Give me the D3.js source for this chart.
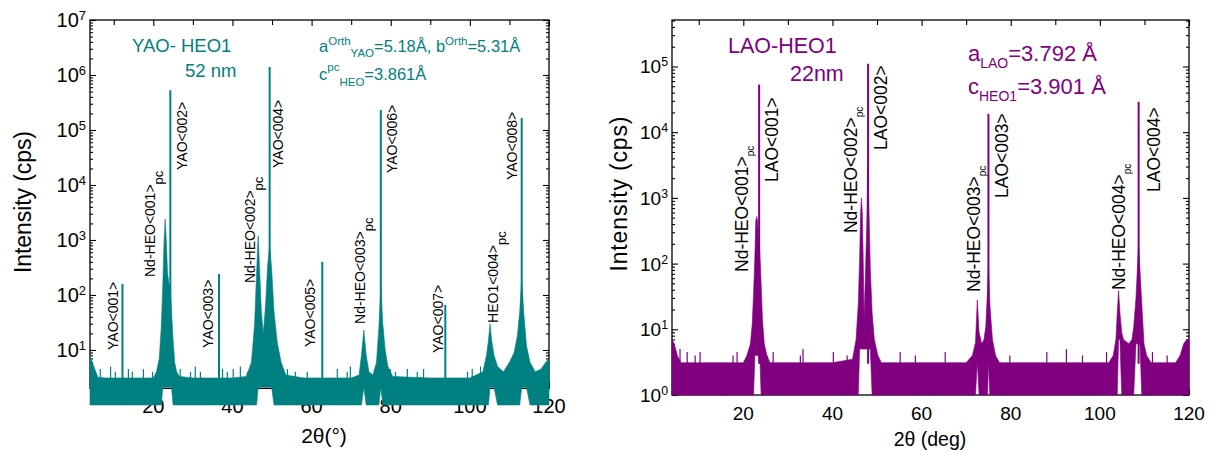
<!DOCTYPE html>
<html>
<head>
<meta charset="utf-8">
<script src="https://cdn.jsdelivr.net/npm/d3@7"></script>
<style>
  body { margin: 0; background: #fff; }
  svg text { font-family: "Liberation Sans", Arial, sans-serif; }
</style>
</head>
<body>
<div id="chart"></div>
<script>
// ---- YAO-HEO1 scan (left) : envelope of the noisy trace
const yaoTheta = [4.0, 4.6, 5.2, 6, 8, 12, 16, 20, 20.8, 21.5, 22.0, 22.4, 22.7, 23.0, 23.3, 23.6, 24.0, 24.3, 24.6,
  25.0, 25.4, 25.9, 26.6, 30, 36, 40, 43.5, 44.8, 45.6, 46.1, 46.5, 46.9, 47.3, 47.8, 48.4, 48.9, 49.4, 49.9,
  50.5, 51.3, 52.3, 53.5, 58, 65, 70, 72.0, 72.6, 73.2, 73.8, 74.5, 75.5, 76.4, 77.0, 77.5, 78.0, 78.6, 79.3,
  80.5, 90, 100, 103.3, 104.2, 104.7, 105.1, 105.5, 106.1, 107.0, 108.5, 110.0, 111.2, 112.0, 112.6, 113.1,
  113.6, 114.3, 115.2, 116.5, 118, 119.2, 120];
const yaoHigh = [8, 6, 4.5, 3.2, 3.1, 3.1, 3.1, 3.1, 4, 7, 25, 150, 900, 2400, 900, 250, 150, 160, 50,
  15, 6, 4, 3.3, 3.1, 3.1, 3.1, 3.3, 6, 30, 250, 1200, 250, 50, 20, 70, 350, 800, 300,
  50, 14, 6, 3.5, 3.1, 3.1, 3.1, 3.5, 8, 23, 8, 4, 3.5, 6, 25, 150, 30, 10, 5,
  3.3, 3.1, 3.1, 4, 8, 15, 30, 15, 8, 5, 4, 6, 9, 18, 50, 200,
  50, 12, 6, 4, 4.5, 6, 7];
const yaoLow = [1, 1, 1, 1, 1, 1, 1, 1, 1, 1, 1, 2.1, 2.1, 2.1, 2.1, 2.1, 2.1, 2.1, 2.1,
  1, 1, 1, 1, 1, 1, 1, 1, 1, 1, 1, 2.1, 2.1, 2.1, 2.1, 2.1, 2.1, 2.1, 2.1,
  1, 1, 1, 1, 1, 1, 1, 1, 1, 2.1, 1, 1, 1, 1, 1, 2.1, 1, 1, 1,
  1, 1, 1, 1, 1, 1, 2.1, 2.1, 2.1, 1, 1, 1, 1, 1, 1, 2.1,
  2.1, 2.1, 1, 1, 1, 1, 1];
const yaoLineTheta = [12.2, 24.3, 36.6, 49.4, 62.7, 77.5, 93.8, 113.1];
const yaoLineCounts = [158, 530000, 240, 1400000, 400, 230000, 66, 165000];
const yaoSpikeTheta = [6.6, 9.2, 10.4, 13.7, 14.7, 17.5, 19.8, 26.8, 29.4, 30.6, 31.9, 37.5, 38.7, 40.2, 42.0,
  43.8, 53.9, 55.9, 58.9, 66.5, 69.0, 69.8, 79.9, 81.2, 84.2, 86.7, 88.3, 99.4, 100.6, 102.7, 110.2, 116.0, 118.6];
const yaoSpikeCounts = [4.5, 5, 4, 4.5, 4, 4.5, 4, 4.5, 4, 5, 4, 4.5, 4, 4.5, 5,
  4, 4.5, 4, 4, 4.5, 4, 5, 4.5, 4, 4.5, 4, 4.5, 4, 4.5, 5, 4, 4.5, 5];
const yaoLabelText = ['YAO<001>', 'Nd-HEO<001>', 'YAO<002>', 'YAO<003>', 'Nd-HEO<002>', 'YAO<004>',
  'YAO<005>', 'Nd-HEO<003>', 'YAO<006>', 'YAO<007>', 'HEO1<004>', 'YAO<008>'];
const yaoLabelSub = ['', 'pc', '', '', 'pc', '', '', 'pc', '', '', 'pc', ''];
const yaoLabelTheta = [11.1, 20.4, 28.5, 35.1, 45.7, 52.8, 60.9, 73.5, 81.6, 93.2, 107.1, 111.9];
const yaoLabelCounts = [10, 212, 18750, 10.9, 165, 20400, 11.3, 29.7, 16500, 8.8, 31, 12300];
const yaoDecades = [1, 2, 3, 4, 5, 6, 7];

// ---- LAO-HEO1 scan (right)
const laoTheta = [4.0, 4.5, 5.2, 6, 10, 15, 20, 20.8, 21.6, 22.0, 22.3, 22.6, 22.8, 23.0, 23.2, 23.4, 23.7,
  24.0, 24.3, 24.7, 25.3, 26, 30, 40, 44.5, 45.3, 45.8, 46.1, 46.3, 46.5, 46.7, 46.9, 47.1, 47.4, 47.7,
  47.9, 48.2, 48.5, 48.9, 49.4, 50.2, 51, 60, 70, 71.4, 72.1, 72.5, 72.9, 73.5, 74.0, 74.4, 74.8, 75.0,
  75.3, 75.9, 76.6, 77.5, 90, 102, 103.0, 103.6, 103.9, 104.2, 104.5, 104.9, 105.3, 106.5, 107.2, 107.6,
  108.1, 108.4, 108.7, 109.0, 109.4, 109.9, 110.5, 111.5, 117, 118, 118.8, 119.5, 120];
const laoHigh = [7, 6, 4, 3.1, 3.1, 3.1, 3.1, 4, 6, 12, 35, 130, 450, 520, 450, 250, 150,
  50, 14, 6, 4, 3.1, 3.1, 3.1, 3.5, 7, 25, 120, 550, 1000, 600, 120, 14, 70, 400,
  3000, 600, 80, 18, 7, 4, 3.1, 3.1, 3.1, 4, 6.3, 28, 9, 6, 7, 11, 40, 100,
  25, 7, 4, 3.1, 3.1, 3.1, 4, 7, 18, 39, 18, 9, 7, 6, 7, 11,
  30, 80, 200, 80, 25, 6, 4, 3.1, 3.1, 4, 6, 7, 7];
const laoLow = [1, 1, 1, 1, 1, 1, 1, 1, 1, 1, 1, 4, 4, 4, 4, 4, 4,
  1, 1, 1, 1, 1, 1, 1, 1, 1, 1, 5, 5, 5, 5, 5, 5, 5, 5,
  5, 5, 5, 1, 1, 1, 1, 1, 1, 1, 1, 3.2, 1, 1, 1, 1, 1, 3.2,
  1, 1, 1, 1, 1, 1, 1, 1, 1, 7, 7, 1, 1, 1, 1, 1,
  6, 6, 6, 6, 1, 1, 1, 1, 1, 1, 1, 1, 1];
const laoLineTheta = [23.55, 48.0, 75.0, 108.7];
const laoLineCounts = [53000, 110000, 19000, 29000];
const laoSpikeTheta = [5.8, 7.4, 9.2, 10.3, 17.7, 18.6, 25.3, 26.7, 32.8, 33.4, 40.2, 43.3, 55.2, 58.6,
  65.3, 79.8, 88.1, 92.5, 96.1, 101.5, 106.7, 111.8, 115.1];
const laoSpikeCounts = [5, 4.5, 4, 4.5, 4, 4.5, 4, 4.5, 4, 5, 4.5, 4, 4.5, 4,
  4.5, 4, 4.5, 5, 4, 4.5, 4, 4.5, 4];
const laoLabelText = ['Nd-HEO<001>', 'LAO<001>', 'Nd-HEO<002>', 'LAO<002>', 'Nd-HEO<003>', 'LAO<003>',
  'Nd-HEO<004>', 'LAO<004>'];
const laoLabelSub = ['pc', '', 'pc', '', 'pc', '', 'pc', ''];
const laoLabelTheta = [21.05, 27.8, 45.5, 52.2, 73.1, 79.4, 105.6, 113.5];
const laoLabelCounts = [74.5, 1746, 292, 5360, 37, 996, 39.6, 1230];
const laoDecades = [0, 1, 2, 3, 4, 5];

const xMajorTicks = [20, 40, 60, 80, 100, 120];
const xMinorTicks = [10, 30, 50, 70, 90, 110];

const width = 1214;
const height = 452;

const svg = d3.select('#chart')
  .append('svg')
  .attr('width', width)
  .attr('height', height)
  .style('background-color', 'white');

function drawPanel(p) {
  const x = d3.scaleLinear().domain([4, 120]).range([p.left, p.right]);
  const y = d3.scaleLog().domain(p.yDomain).range([p.bottom, p.top]);
  const g = svg.append('g');

  const yMajor = p.decades.map(e => Math.pow(10, e));
  const yMinor = [];
  p.decades.forEach(e => {
    for (let m = 2; m <= 9; m++) {
      const v = m * Math.pow(10, e - 1);
      if (v >= p.yDomain[0] && v <= p.yDomain[1]) yMinor.push(v);
    }
    if (e === p.decades[p.decades.length - 1]) {
      for (let m = 2; m <= 9; m++) {
        const v = m * Math.pow(10, e);
        if (v <= p.yDomain[1]) yMinor.push(v);
      }
    }
  });

  // inward ticks on all four sides
  const tickSets = [
    [d3.axisRight(y).tickValues(yMajor).tickSize(6), `translate(${p.left},0)`],
    [d3.axisRight(y).tickValues(yMinor).tickSize(3), `translate(${p.left},0)`],
    [d3.axisLeft(y).tickValues(yMajor).tickSize(6), `translate(${p.right},0)`],
    [d3.axisLeft(y).tickValues(yMinor).tickSize(3), `translate(${p.right},0)`],
    [d3.axisBottom(x).tickValues(xMajorTicks).tickSize(6), `translate(0,${p.top})`],
    [d3.axisBottom(x).tickValues(xMinorTicks).tickSize(5), `translate(0,${p.top})`],
    [d3.axisTop(x).tickValues(xMajorTicks).tickSize(6), `translate(0,${p.bottom})`],
    [d3.axisTop(x).tickValues(xMinorTicks).tickSize(5), `translate(0,${p.bottom})`]
  ];
  tickSets.forEach(([axis, tr]) => {
    g.append('g')
      .attr('transform', tr)
      .attr('color', '#000')
      .call(axis.tickFormat('').tickSizeOuter(0))
      .call(a => a.select('.domain').remove())
      .selectAll('line').attr('stroke-width', 1.1);
  });

  g.append('rect')
    .attr('x', p.left)
    .attr('y', p.top)
    .attr('width', p.right - p.left)
    .attr('height', p.bottom - p.top)
    .attr('fill', 'none')
    .attr('stroke', '#000')
    .attr('stroke-width', 1.3);

  // y tick labels 10^n
  p.decades.forEach(e => {
    const t = g.append('text')
      .attr('x', p.left - 4)
      .attr('y', y(Math.pow(10, e)) + 7)
      .attr('text-anchor', 'end')
      .style('font-size', p.tickFont + 'px')
      .text('10');
    t.append('tspan')
      .attr('dy', -7)
      .style('font-size', (p.tickFont * 0.65) + 'px')
      .text(e);
  });

  // x tick labels
  g.selectAll('.xlab')
    .data(xMajorTicks)
    .join('text')
    .attr('x', d => x(d))
    .attr('y', p.xLabelY)
    .attr('text-anchor', 'middle')
    .style('font-size', p.tickFont + 'px')
    .text(d => d);

  // axis titles
  g.append('text')
    .attr('transform', `translate(${p.yTitleX},${p.yTitleY}) rotate(-90)`)
    .attr('text-anchor', 'middle')
    .attr('textLength', p.yTitleLen)
    .style('font-size', p.yTitleFont + 'px')
    .text('Intensity (cps)');
  g.append('text')
    .attr('x', p.xTitleX)
    .attr('y', p.xTitleY)
    .attr('text-anchor', 'middle')
    .style('font-size', p.xTitleFont + 'px')
    .text(p.xTitle);

  // noisy trace: band between lower and upper envelope
  const idx = d3.range(p.theta.length);
  g.append('path')
    .datum(idx)
    .attr('fill', p.color)
    .attr('stroke', p.color)
    .attr('stroke-width', 0.6)
    .attr('d', d3.area()
      .x(i => x(p.theta[i]))
      .y0(i => y(p.low[i]))
      .y1(i => y(p.high[i])));

  g.selectAll('.spike')
    .data(d3.range(p.spikeTheta.length))
    .join('line')
    .attr('x1', i => x(p.spikeTheta[i]))
    .attr('x2', i => x(p.spikeTheta[i]))
    .attr('y1', y(1))
    .attr('y2', i => y(p.spikeCounts[i]))
    .attr('stroke', p.color)
    .attr('stroke-width', 1.2);

  g.selectAll('.peak')
    .data(d3.range(p.lineTheta.length))
    .join('line')
    .attr('x1', i => x(p.lineTheta[i]))
    .attr('x2', i => x(p.lineTheta[i]))
    .attr('y1', y(3))
    .attr('y2', i => y(p.lineCounts[i]))
    .attr('stroke', p.color)
    .attr('stroke-width', 2);

  // peak labels
  p.labelText.forEach((txt, i) => {
    const t = g.append('text')
      .attr('transform', `translate(${x(p.labelTheta[i])},${y(p.labelCounts[i])}) rotate(-90)`)
      .style('font-size', p.labelFont + 'px')
      .text(txt);
    if (p.labelSub[i]) {
      t.append('tspan')
        .attr('dy', p.subShift)
        .style('font-size', p.subFont + 'px')
        .text(p.labelSub[i]);
    }
  });

  return g;
}

const left = drawPanel({
  left: 90, right: 549, top: 20, bottom: 388.4, yDomain: [2, 1e7],
  decades: yaoDecades, color: '#008080',
  theta: yaoTheta, high: yaoHigh, low: yaoLow,
  lineTheta: yaoLineTheta, lineCounts: yaoLineCounts,
  spikeTheta: yaoSpikeTheta, spikeCounts: yaoSpikeCounts,
  labelText: yaoLabelText, labelSub: yaoLabelSub, labelTheta: yaoLabelTheta, labelCounts: yaoLabelCounts,
  labelFont: 14, subFont: 13, subShift: 8,
  tickFont: 20, xLabelY: 413,
  yTitleX: 31, yTitleY: 202, yTitleLen: 142, yTitleFont: 23,
  xTitle: '2θ(°)', xTitleX: 324, xTitleY: 443, xTitleFont: 21
});

const right = drawPanel({
  left: 672, right: 1189, top: 20, bottom: 395, yDomain: [1, 5.1e5],
  decades: laoDecades, color: '#800080',
  theta: laoTheta, high: laoHigh, low: laoLow,
  lineTheta: laoLineTheta, lineCounts: laoLineCounts,
  spikeTheta: laoSpikeTheta, spikeCounts: laoSpikeCounts,
  labelText: laoLabelText, labelSub: laoLabelSub, labelTheta: laoLabelTheta, labelCounts: laoLabelCounts,
  labelFont: 17.5, subFont: 10, subShift: 6,
  tickFont: 19, xLabelY: 420,
  yTitleX: 627, yTitleY: 194, yTitleLen: 155, yTitleFont: 23,
  xTitle: '2θ (deg)', xTitleX: 930, xTitleY: 446, xTitleFont: 19.5
});

// sample annotations
const teal = '#008080';
const purple = '#800080';

left.append('text').attr('x', 132).attr('y', 52).attr('fill', teal)
  .style('font-size', '18.5px').text('YAO- HEO1');
left.append('text').attr('x', 185).attr('y', 77).attr('fill', teal)
  .style('font-size', '18.5px').text('52 nm');

const aYao = left.append('text').attr('x', 319).attr('y', 52).attr('fill', teal).style('font-size', '16.5px');
aYao.append('tspan').text('a');
aYao.append('tspan').attr('dy', -7).style('font-size', '11.5px').text('Orth');
aYao.append('tspan').attr('dy', 12).style('font-size', '11.5px').text('YAO');
aYao.append('tspan').attr('dy', -5).text('=5.18Å, b');
aYao.append('tspan').attr('dy', -7).style('font-size', '11.5px').text('Orth');
aYao.append('tspan').attr('dy', 7).text('=5.31Å');

const cYao = left.append('text').attr('x', 319).attr('y', 80).attr('fill', teal).style('font-size', '16.5px');
cYao.append('tspan').text('c');
cYao.append('tspan').attr('dy', -9).style('font-size', '11.5px').text('pc');
cYao.append('tspan').attr('dy', 15).style('font-size', '11.5px').text('HEO');
cYao.append('tspan').attr('dy', -6).text('=3.861Å');

right.append('text').attr('x', 728).attr('y', 53).attr('fill', purple)
  .style('font-size', '21.5px').text('LAO-HEO1');
right.append('text').attr('x', 790).attr('y', 81).attr('fill', purple)
  .style('font-size', '21.5px').text('22nm');

const aLao = right.append('text').attr('x', 968).attr('y', 61).attr('fill', purple).style('font-size', '22px');
aLao.append('tspan').text('a');
aLao.append('tspan').attr('dy', 7).style('font-size', '14px').text('LAO');
aLao.append('tspan').attr('dy', -7).text('=3.792 Å');

const cLao = right.append('text').attr('x', 968).attr('y', 94).attr('fill', purple).style('font-size', '22px');
cLao.append('tspan').text('c');
cLao.append('tspan').attr('dy', 7).style('font-size', '14px').text('HEO1');
cLao.append('tspan').attr('dy', -7).text('=3.901 Å');
</script>
</body>
</html>
